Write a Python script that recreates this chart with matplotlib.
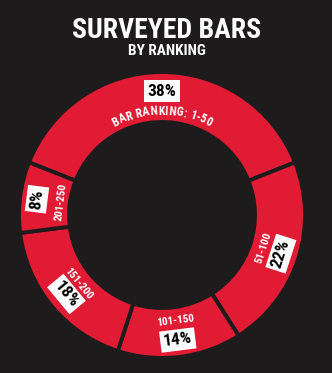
import numpy as np
import matplotlib.pyplot as plt
from matplotlib.textpath import TextToPath
from matplotlib.font_manager import FontProperties

# data
categories = ['BAR RANKING: 1-50', '51-100', '101-150', '151-200', '201-250']
shares = [38, 22, 14, 18, 8]
pct_labels = ['38%', '22%', '14%', '18%', '8%']

bg = '#1d1b1c'
red = '#e01b33'
font = ['Roboto Condensed', 'DejaVu Sans']

W, H = 332, 373
fig = plt.figure(figsize=(W / 100, H / 100), dpi=100, facecolor=bg)
ax = fig.add_axes([0, 0, 1, 1])
ax.set_facecolor(bg)

cx, cy = 162, H - 215
r_out, ring = 143, 50
start = 90 + shares[0] * 3.6 / 2

wedges, _ = ax.pie(shares, colors=[red] * len(shares), startangle=start,
                   counterclock=False, radius=r_out, center=(cx, cy),
                   wedgeprops=dict(width=ring, edgecolor=bg, linewidth=2.8))
ax.set_xlim(0, W)
ax.set_ylim(0, H)
ax.set_aspect('equal')
ax.axis('off')

fig.text(0.502, 1 - 38 / H, 'SURVEYED BARS', color='white', ha='center', va='baseline',
         fontsize=20, fontweight='bold', family=font)
fig.text(0.503, 1 - 55 / H, 'BY RANKING', color='white', ha='center', va='baseline',
         fontsize=11, fontweight='bold', family=font)

box = dict(boxstyle='square,pad=0.18', facecolor='white', edgecolor='none')

def polar(r, a):
    return cx + r * np.cos(np.radians(a)), cy + r * np.sin(np.radians(a))

# wedge mid angles
mids = []
a = start
for s in shares:
    mids.append(a - s * 3.6 / 2)
    a -= s * 3.6

# percentage boxes and labels for segments 2..5
pct_r = [124, 125, 126, 124, 126]
lab_r = [104, 107, 107, 108, 102]
for i in range(1, len(shares)):
    m = mids[i]
    rot = m - 90 if np.cos(np.radians(m)) < -0.8 else m + 90
    x, y = polar(lab_r[i], m)
    ax.text(x, y, categories[i], color='white', ha='center', va='center',
            fontsize=8, fontweight='bold', rotation=rot, family=font)
    x, y = polar(pct_r[i], m)
    ax.text(x, y, pct_labels[i], color='black', ha='center', va='center',
            fontsize=12.5, fontweight='bold', rotation=rot, family=font, bbox=box)

# first segment: straight percentage, curved label
x, y = polar(pct_r[0], mids[0])
ax.text(x, y, pct_labels[0], color='black', ha='center', va='center',
        fontsize=12.5, fontweight='bold', family=font, bbox=box)

fp = FontProperties(family=font, weight='bold', size=8.5)
t2p = TextToPath()
txt = categories[0]
widths = [t2p.get_text_width_height_descent(ch, fp, ismath=False)[0] * 100 / 72 * 1.08
          for ch in txt]
total = sum(widths)
r_lab = lab_r[0]
pos = -total / 2
for ch, w in zip(txt, widths):
    c = pos + w / 2
    ang = mids[0] - np.degrees(c / r_lab)
    x, y = polar(r_lab, ang)
    ax.text(x, y, ch, color='white', ha='center', va='center', fontsize=8.5,
            fontweight='bold', rotation=ang - 90, family=font)
    pos += w

fig.savefig('out.png', dpi=100, facecolor=bg)
